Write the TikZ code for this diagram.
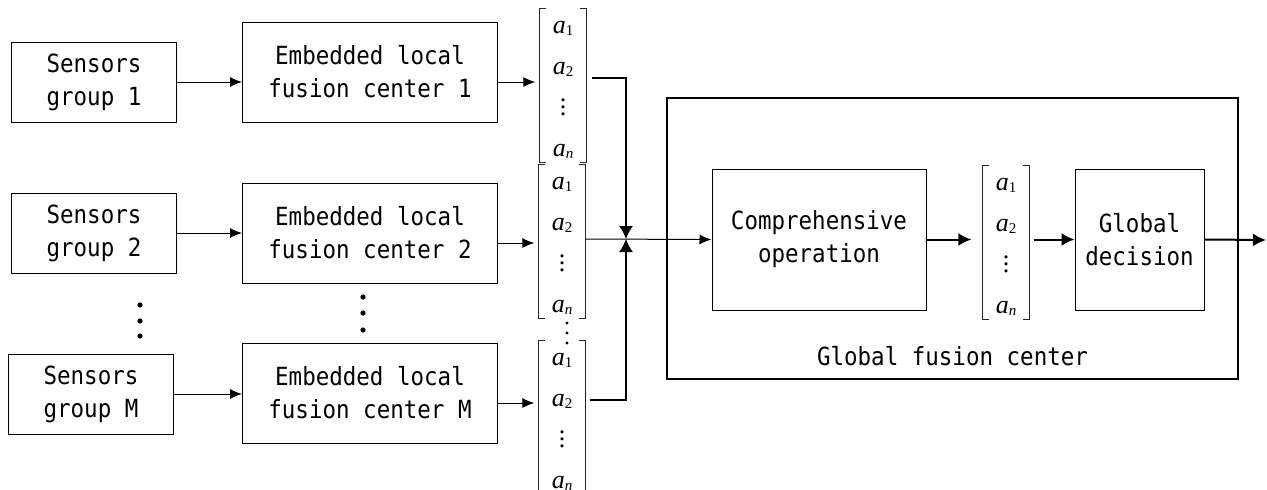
\documentclass[tikz,border=0pt]{standalone}
\usepackage{fontspec}
\usetikzlibrary{arrows.meta,positioning,calc}
\newfontfamily\boxfont[FakeStretch=0.9]{DejaVu Sans Mono}
\newfontfamily\vecfont{Liberation Serif}
\newcommand{\vdts}{\vbox{\baselineskip=7pt\lineskiplimit=-20pt\hbox{.}\hbox{.}\hbox{.}}}
\newcommand{\ent}[1]{\textit{a}\raisebox{-2pt}{\fontsize{15}{15}\selectfont #1}}

\begin{document}
\begin{tikzpicture}[x=1pt, y=-1pt,
  b/.style={draw, line width=1pt, align=center, inner sep=0pt,
            minimum width=165pt, minimum height=80pt,
            font=\boxfont\fontsize{25}{33}\selectfont},
  emb/.style={b, minimum width=255pt, minimum height=100pt},
  gb/.style={b, minimum height=141pt},
  vec/.style={align=center, inner xsep=0pt, inner ysep=0pt, minimum width=47pt,
              font=\vecfont\fontsize{26}{41}\selectfont},
  brk/.style={line width=1pt, black!85},
  a/.style={-{Latex[length=12pt,width=10pt]}, line width=1pt},
  th/.style={-{Latex[length=13pt,width=13pt]}, line width=2pt},
  jn/.style={-{Latex[length=13pt,width=14pt]}, line width=1.6pt},
  lbl/.style={font=\boxfont\fontsize{25}{33}\selectfont, inner sep=0pt}]

\useasboundingbox (0,0) rectangle (1267,490);

% local fusion rows
\foreach \i/\xs/\ys/\ye in {1/94/82/72, 2/94/233/233, M/91/394/393} {
  \node[b] (s\i) at (\xs,\ys) {Sensors\\group \i};
  \node[emb] (e\i) at (370,\ye) {Embedded local\\fusion center \i};
  \draw[a] (s\i.east) -- (s\i.east -| e\i.west);
}

% decision vectors
\foreach \v/\x/\y in {v1/563/89.5, v2/562/245.5, vM/562/421.5, vG/1006/246.5} {
  \node[vec] (\v) at (\x,\y) {\ent{1}\\\ent{2}\\\vdts\\\ent{\textit{n}}};
  \draw[brk] ([xshift=7pt,yshift=12.1pt]\v.north west) -- ([yshift=12.1pt]\v.north west)
    -- ([yshift=-4pt]\v.south west) -- ([xshift=7pt,yshift=-4pt]\v.south west);
  \draw[brk] ([xshift=-7pt,yshift=12.1pt]\v.north east) -- ([yshift=12.1pt]\v.north east)
    -- ([yshift=-4pt]\v.south east) -- ([xshift=-7pt,yshift=-4pt]\v.south east);
}
\foreach \i in {1,2,M} {
  \draw[a, shorten >=4pt] ([yshift=-10pt]e\i.east) -- ([yshift=-10pt]e\i.east -| v\i.west);
}

% global fusion center
\node[draw, line width=2pt, minimum width=571pt, minimum height=281pt] (gfc) at (952.5,238.5) {};
\node[gb, minimum width=214pt] (comp) at (819,239.5) {Comprehensive\\operation};
\node[gb, minimum width=129pt] (gd) at (1139.5,239.5) {Global\\decision};
\node[lbl] (gfcl) at (952.5,356) {Global fusion center};

\coordinate (j) at (626,239);
\coordinate (out) at (1266,240);

\draw[jn] ([xshift=5pt,yshift=11.5pt]v1.east) -| (j);
\draw[jn] ([xshift=4pt,yshift=21.5pt]vM.east) -| (j);
\draw[a] (v2.east |- j) -- (comp.west);

\draw[th, shorten >=11pt] (comp.east) -- (vG.west |- comp.east);
\draw[th, shorten <=4pt] (vG.east |- gd.west) -- (gd.west);
\draw[th] (gd.east) -- (out);

% vertical ellipses
\foreach \y in {305,321,336} { \fill (140,\y) circle (2.6pt); }
\foreach \y in {297,313,330} { \fill (363,\y) circle (2.6pt); }
\foreach \y in {323,333,343} { \fill (567,\y) circle (1.6pt); }
\end{tikzpicture}
\end{document}
